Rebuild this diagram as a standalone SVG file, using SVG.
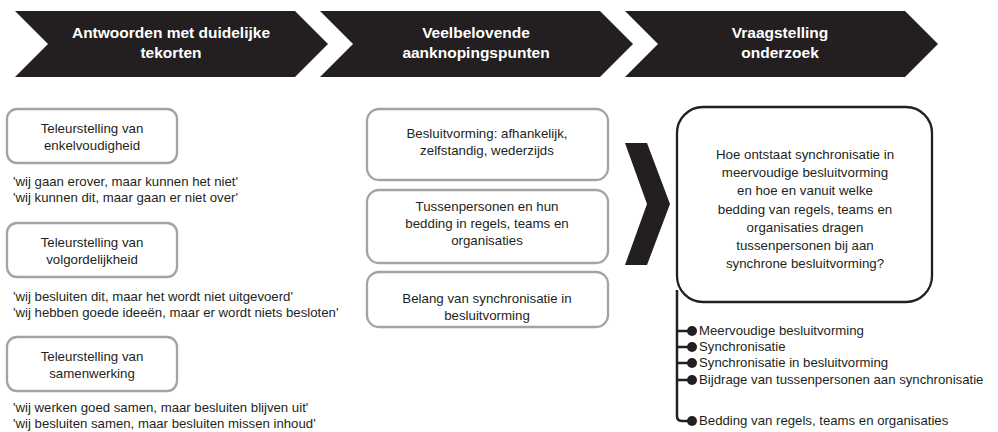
<svg xmlns="http://www.w3.org/2000/svg" width="998" height="432" viewBox="0 0 998 432">
  <style>
    .chev { fill: #231f20; }
    .head { font-family: "Liberation Sans", Arial, sans-serif; font-weight: bold; font-size: 15.5px; fill: #ffffff; text-anchor: middle; }
    .box { fill: #ffffff; stroke: #a3a3a3; stroke-width: 2.3; }
    .qbox { fill: #ffffff; stroke: #231f20; stroke-width: 2.3; }
    .lbl { font-family: "Liberation Sans", Arial, sans-serif; font-size: 13.3px; fill: #231f20; text-anchor: middle; }
    .txt { font-family: "Liberation Sans", Arial, sans-serif; font-size: 13.2px; fill: #231f20; }
    .wire { fill: none; stroke: #231f20; stroke-width: 2.5; }
    .dot { fill: #231f20; }
  </style>

  <!-- Phase banners -->
  <g id="phase-1">
    <polygon class="chev" points="15,11 295,11 328,44 295,77 15,77 48,44"/>
    <text class="head" x="171" y="38">Antwoorden met duidelijke</text>
    <text class="head" x="171" y="58">tekorten</text>
  </g>
  <g id="phase-2">
    <polygon class="chev" points="320,11 600,11 633,44 600,77 320,77 353,44"/>
    <text class="head" x="476" y="38">Veelbelovende</text>
    <text class="head" x="476" y="58">aanknopingspunten</text>
  </g>
  <g id="phase-3">
    <polygon class="chev" points="625,11 905,11 938,44 905,77 625,77 658,44"/>
    <text class="head" x="780" y="38">Vraagstelling</text>
    <text class="head" x="780" y="58">onderzoek</text>
  </g>

  <!-- Column 1: disappointments with quotes -->
  <g id="enkelvoudigheid">
    <rect class="box" x="7" y="109" width="170" height="54" rx="10"/>
    <text class="lbl" x="92" y="133">Teleurstelling van</text>
    <text class="lbl" x="92" y="150">enkelvoudigheid</text>
    <text class="txt" x="13" y="186">'wij gaan erover, maar kunnen het niet'</text>
    <text class="txt" x="13" y="202">'wij kunnen dit, maar gaan er niet over'</text>
  </g>
  <g id="volgordelijkheid">
    <rect class="box" x="7" y="223" width="170" height="54" rx="10"/>
    <text class="lbl" x="92" y="247">Teleurstelling van</text>
    <text class="lbl" x="92" y="264">volgordelijkheid</text>
    <text class="txt" x="13" y="301">'wij besluiten dit, maar het wordt niet uitgevoerd'</text>
    <text class="txt" x="13" y="317">'wij hebben goede ideeën, maar er wordt niets besloten'</text>
  </g>
  <g id="samenwerking">
    <rect class="box" x="7" y="337" width="170" height="54" rx="10"/>
    <text class="lbl" x="92" y="361">Teleurstelling van</text>
    <text class="lbl" x="92" y="378">samenwerking</text>
    <text class="txt" x="13" y="412">'wij werken goed samen, maar besluiten blijven uit'</text>
    <text class="txt" x="13" y="428">'wij besluiten samen, maar besluiten missen inhoud'</text>
  </g>

  <!-- Column 2: promising leads -->
  <g id="besluitvorming">
    <rect class="box" x="367" y="109" width="241" height="71" rx="12"/>
    <text class="lbl" x="487" y="138">Besluitvorming: afhankelijk,</text>
    <text class="lbl" x="487" y="155">zelfstandig, wederzijds</text>
  </g>
  <g id="tussenpersonen">
    <rect class="box" x="367" y="190" width="241" height="73" rx="12"/>
    <text class="lbl" x="487" y="211">Tussenpersonen en hun</text>
    <text class="lbl" x="487" y="228">bedding in regels, teams en</text>
    <text class="lbl" x="487" y="245">organisaties</text>
  </g>
  <g id="belang">
    <rect class="box" x="367" y="272" width="241" height="55" rx="12"/>
    <text class="lbl" x="487" y="303">Belang van synchronisatie in</text>
    <text class="lbl" x="487" y="320">besluitvorming</text>
  </g>

  <!-- Transition arrow -->
  <g id="transition">
    <polygon class="chev" points="625,143 647,143 670,204 647,265 625,265 647,204"/>
  </g>

  <!-- Column 3: research question -->
  <g id="vraagstelling">
    <rect class="qbox" x="677" y="107" width="255" height="195" rx="26"/>
    <text class="lbl" x="805" y="159">Hoe ontstaat synchronisatie in</text>
    <text class="lbl" x="805" y="177">meervoudige besluitvorming</text>
    <text class="lbl" x="805" y="195">en hoe en vanuit welke</text>
    <text class="lbl" x="805" y="214">bedding van regels, teams en</text>
    <text class="lbl" x="805" y="232">organisaties dragen</text>
    <text class="lbl" x="805" y="250">tussenpersonen bij aan</text>
    <text class="lbl" x="805" y="268">synchrone besluitvorming?</text>
  </g>

  <!-- Concept tree -->
  <g id="connectors">
    <path class="wire" d="M677,290 V416 Q677,421 682,421 H692"/>
    <path class="wire" d="M677,331 H692 M677,347 H692 M677,363 H692 M677,380 H692"/>
  </g>
  <g id="concepts">
    <circle class="dot" cx="692" cy="331" r="5"/>
    <text class="txt" x="699" y="335">Meervoudige besluitvorming</text>
    <circle class="dot" cx="692" cy="347" r="5"/>
    <text class="txt" x="699" y="351">Synchronisatie</text>
    <circle class="dot" cx="692" cy="363" r="5"/>
    <text class="txt" x="699" y="367">Synchronisatie in besluitvorming</text>
    <circle class="dot" cx="692" cy="380" r="5"/>
    <text class="txt" x="699" y="384">Bijdrage van tussenpersonen aan synchronisatie</text>
    <circle class="dot" cx="692" cy="421" r="5"/>
    <text class="txt" x="699" y="425">Bedding van regels, teams en organisaties</text>
  </g>
</svg>
